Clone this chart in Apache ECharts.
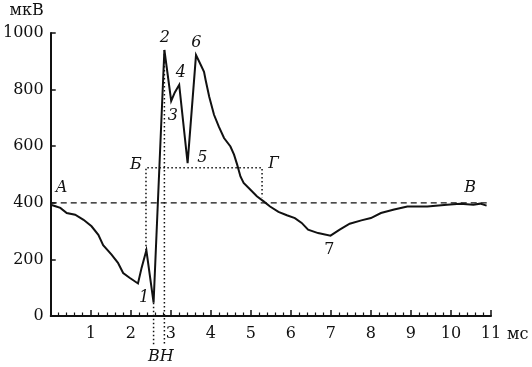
<!DOCTYPE html>
<html>
<head>
<meta charset="utf-8">
<script src="https://cdn.jsdelivr.net/npm/echarts@6/dist/echarts.min.js"></script>
<style>
html,body{margin:0;padding:0;background:#fff;}
#c{width:532px;height:367px;}
</style>
</head>
<body>
<div id="c"></div>
<script>
// time, ms
const timeMs = [0,0.12,0.24,0.40,0.61,0.82,1.02,1.19,1.31,1.52,1.68,1.81,1.97,2.18,2.27,2.39,2.57,2.84,3.01,3.10,3.21,3.42,3.63,3.75,3.83,3.87,3.96,4.08,4.20,4.33,4.49,4.58,4.66,4.74,4.82,4.99,5.15,5.32,5.48,5.69,5.90,6.10,6.27,6.43,6.68,6.99,7.22,7.47,7.76,8.00,8.25,8.58,8.91,9.41,9.90,10.23,10.56,10.73,10.89];
// amplitude, µV
const amplitude = [393,388,382,364,358,340,317,287,250,217,188,152,135,115,170,232,47,940,760,790,817,540,922,887,863,834,775,711,669,629,599,570,534,493,470,446,423,405,387,368,356,346,329,305,293,284,305,326,338,346,364,376,387,387,393,397,393,397,390];
// baseline A–B
const baselineX = [0, 10.9];
const baselineY = [400, 400];
// dotted box Б–Г
const boxX = [2.38, 2.38, 5.28, 5.28];
const boxY = [232, 524, 524, 420];
// dotted verticals В and Н
const lineBX = [2.57, 2.57];
const lineBY = [47, -100];
const lineHX = [2.84, 2.84];
const lineHY = [940, -100];
// annotation labels
const labelText = ['А','Б','Г','В','1','2','3','4','5','6','7','ВН'];
const labelX = [0.27,2.13,5.57,10.48,2.33,2.85,3.05,3.25,3.79,3.64,6.96,2.75];
const labelY = [453,534,538,453,65,982,707,859,559,965,235,-143];
const labelItalic = [true,true,true,true,true,true,true,true,true,true,false,true];
// axes
const xTicks = {min:0, max:11, interval:1};
const yTicks = {min:0, max:1000, interval:200};
const xName = 'мс';
const yName = 'мкВ';

const FONT = 'DejaVu Serif';
const INK = '#111';
const zip = (a,b) => a.map((v,i)=>[v,b[i]]);

const chart = echarts.init(document.getElementById('c'), null, {renderer:'canvas'});
chart.setOption({
  animation:false,
  backgroundColor:'#fff',
  grid:{left:47,right:41,top:33,bottom:51,containLabel:false},
  xAxis:{
    type:'value', min:xTicks.min, max:xTicks.max, interval:xTicks.interval,
    name:xName, nameLocation:'end', nameGap:15,
    nameTextStyle:{fontFamily:FONT,fontSize:16,color:INK,verticalAlign:'top',padding:[11,0,0,0]},
    axisLine:{show:true,onZero:false,lineStyle:{color:INK,width:2}},
    axisTick:{show:true,inside:true,length:6,lineStyle:{color:INK,width:1.5}},
    minorTick:{show:true,splitNumber:5,length:3.5,lineStyle:{color:INK,width:1.2}},
    splitLine:{show:false},
    axisLabel:{formatter:v=>v===0?'':String(v),margin:10,fontFamily:FONT,fontSize:16,color:INK}
  },
  yAxis:{
    type:'value', min:yTicks.min, max:yTicks.max, interval:yTicks.interval,
    name:yName, nameLocation:'end', nameGap:14,
    nameTextStyle:{fontFamily:FONT,fontSize:16,color:INK,align:'right',padding:[0,7,0,0]},
    axisLine:{show:true,lineStyle:{color:INK,width:2}},
    axisTick:{show:true,inside:true,length:5,lineStyle:{color:INK,width:1.5}},
    splitLine:{show:false},
    axisLabel:{formatter:v=>String(v),margin:7,fontFamily:FONT,fontSize:16,color:INK}
  },
  series:[
    {type:'line',data:zip(baselineX,baselineY),symbol:'none',silent:true,
     lineStyle:{color:INK,width:1.2,type:[6,4]}},
    {type:'line',data:zip(boxX,boxY),symbol:'none',silent:true,clip:false,
     lineStyle:{color:INK,width:1.5,type:[1.5,2.5]}},
    {type:'line',data:zip(lineBX,lineBY),symbol:'none',silent:true,clip:false,
     lineStyle:{color:INK,width:1.5,type:[1.5,2.5]}},
    {type:'line',data:zip(lineHX,lineHY),symbol:'none',silent:true,clip:false,
     lineStyle:{color:INK,width:1.5,type:[1.5,2.5]}},
    {type:'line',data:zip(timeMs,amplitude),symbol:'none',
     lineStyle:{color:INK,width:2,join:'miter'}},
    {type:'scatter',clip:false,symbolSize:1,silent:true,
     itemStyle:{color:'rgba(0,0,0,0)',opacity:1},
     data:labelText.map((t,i)=>({value:[labelX[i],labelY[i]],name:t,
       label:{fontStyle:labelItalic[i]?'italic':'normal',color:INK}})),
     label:{show:true,position:'inside',formatter:p=>p.name,fontFamily:FONT,fontSize:16,color:INK,textBorderWidth:0}}
  ]
});
</script>
</body>
</html>
